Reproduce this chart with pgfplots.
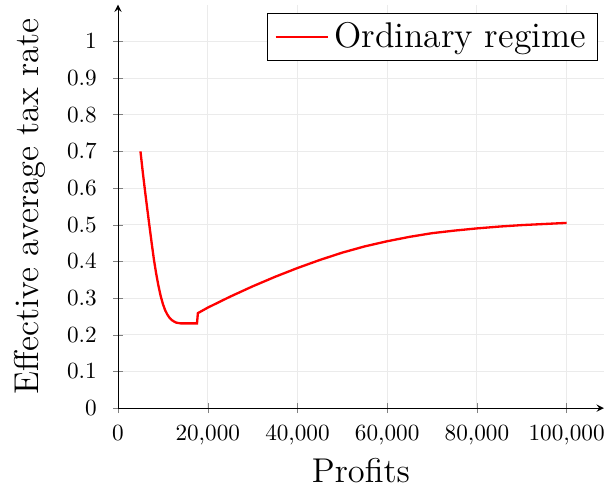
\documentclass[border=0pt]{standalone}
\usepackage{graphicx}
\usepackage{pgfplots}
\pgfplotsset{compat=1.18}
\begin{document}
\begin{tikzpicture}
\begin{axis}[
  scale only axis,
  width=209.5pt, height=174pt,
  axis lines=left,
  xmin=0, xmax=108300, ymin=0, ymax=1.1,
  xtick={0,20000,40000,60000,80000,100000},
  ytick={0,0.1,0.2,0.3,0.4,0.5,0.6,0.7,0.8,0.9,1},
  scaled x ticks=false,
  xticklabel style={/pgf/number format/fixed},
  xticklabel shift=2pt,
  yticklabel shift=3.5pt,
  grid=major,
  grid style={black!8, line width=0.4pt},
  tick align=center,
  xlabel={\scalebox{1.03}{Profits}},
  ylabel={\scalebox{1.03}{Effective average tax rate}},
  xlabel shift=-1.3pt,
  ylabel shift=2.3pt,
  label style={font=\Large},
  legend style={font=\Large, at={(0.988,0.98)}, anchor=north east},
  legend image code/.code={\draw[#1] (0cm,0cm) -- (0.8cm,0cm);},
]
\addplot[red, line width=1pt] table {
x y
5000 0.700
5500 0.645
6000 0.594
6500 0.545
7000 0.497
7500 0.450
8000 0.405
8500 0.367
9000 0.334
9500 0.306
10000 0.284
10500 0.267
11000 0.255
11500 0.246
12000 0.240
12500 0.236
13000 0.233
13500 0.232
14000 0.231
17600 0.231
17800 0.259
20000 0.274
25000 0.304
30000 0.332
35000 0.358
40000 0.382
45000 0.404
50000 0.424
55000 0.441
60000 0.455
65000 0.467
70000 0.477
75000 0.484
80000 0.490
85000 0.495
90000 0.499
95000 0.502
100000 0.505
};
\addlegendentry{\scalebox{1.07}{Ordinary regime}}
\end{axis}
\pgfresetboundingbox
\path ([xshift=-50.9pt,yshift=-39.2pt]current axis.south west) rectangle ([xshift=0.5pt,yshift=2pt]current axis.north east);
\end{tikzpicture}
\end{document}
